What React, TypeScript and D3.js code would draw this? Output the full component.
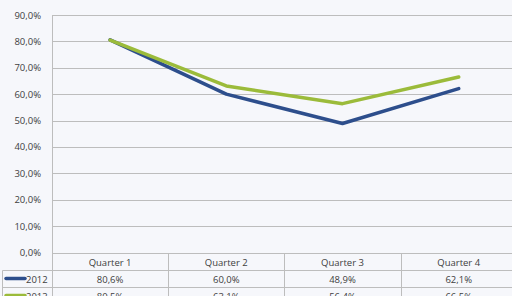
import React, { useEffect, useRef } from 'react';
import * as d3 from 'd3';

const categories = ['Quarter 1', 'Quarter 2', 'Quarter 3', 'Quarter 4'];
const years = ['2012', '2013'];
const values2012 = [80.6, 60.0, 48.9, 62.1];
const values2013 = [80.5, 63.1, 56.4, 66.5];
const yTicks = [0, 10, 20, 30, 40, 50, 60, 70, 80, 90];
const colors = ['#2d4e8c', '#9bbb3a'];

const W = 512;
const H = 296;

const fmt = (v: number) => v.toFixed(1).replace('.', ',') + '%';

const App = () => {
  const ref = useRef<SVGSVGElement>(null);

  useEffect(() => {
    const svg = d3.select(ref.current);
    svg.selectAll('*').remove();

    const left = 52;
    const top = 15;
    const bottom = 252.5;
    const colW = 116.2;
    const rowH = 17;
    const font = "'Open Sans', sans-serif";
    const textColor = '#404040';
    const gridColor = '#bdbdbd';

    svg.append('rect').attr('width', W).attr('height', H).attr('fill', '#f6f7fb');

    const x = d3
      .scaleBand()
      .domain(categories)
      .range([left, left + colW * categories.length]);
    const y = d3.scaleLinear().domain([0, 90]).range([bottom, top]);

    // gridlines
    svg
      .append('g')
      .selectAll('line')
      .data(yTicks)
      .enter()
      .append('line')
      .attr('x1', left)
      .attr('x2', W)
      .attr('y1', (d) => Math.round(y(d)) + 0.5)
      .attr('y2', (d) => Math.round(y(d)) + 0.5)
      .attr('stroke', gridColor)
      .attr('stroke-width', 1);

    // y labels
    svg
      .append('g')
      .selectAll('text')
      .data(yTicks)
      .enter()
      .append('text')
      .attr('x', 41)
      .attr('y', (d) => y(d) + 3.5)
      .attr('text-anchor', 'end')
      .attr('font-family', font)
      .attr('font-size', 9.5)
      .attr('fill', textColor)
      .text((d) => fmt(d));

    // vertical axis line
    svg
      .append('line')
      .attr('x1', left + 0.5)
      .attr('x2', left + 0.5)
      .attr('y1', top)
      .attr('y2', H)
      .attr('stroke', gridColor);

    // data table
    const tableTop = Math.round(bottom) + 0.5;
    const rowLines = [tableTop + rowH, tableTop + rowH * 2];
    svg
      .append('g')
      .selectAll('line')
      .data(rowLines)
      .enter()
      .append('line')
      .attr('x1', 2.5)
      .attr('x2', W)
      .attr('y1', (d) => d)
      .attr('y2', (d) => d)
      .attr('stroke', gridColor);
    svg
      .append('line')
      .attr('x1', 2.5)
      .attr('x2', 2.5)
      .attr('y1', tableTop + rowH)
      .attr('y2', H)
      .attr('stroke', gridColor);
    svg
      .append('g')
      .selectAll('line')
      .data(categories.slice(1))
      .enter()
      .append('line')
      .attr('x1', (d) => Math.round(x(d)!) + 0.5)
      .attr('x2', (d) => Math.round(x(d)!) + 0.5)
      .attr('y1', tableTop)
      .attr('y2', H)
      .attr('stroke', gridColor);

    svg
      .append('g')
      .selectAll('text')
      .data(categories)
      .enter()
      .append('text')
      .attr('x', (d) => x(d)! + x.bandwidth() / 2)
      .attr('y', tableTop + 12.5)
      .attr('text-anchor', 'middle')
      .attr('font-family', font)
      .attr('font-size', 9.5)
      .attr('fill', textColor)
      .text((d) => d);

    const series = [values2012, values2013];
    series.forEach((vals, i) => {
      const rowY = tableTop + rowH * (i + 1);
      svg
        .append('line')
        .attr('x1', 6)
        .attr('x2', 25)
        .attr('y1', rowY + 8)
        .attr('y2', rowY + 8)
        .attr('stroke', colors[i])
        .attr('stroke-width', 3.5)
        .attr('stroke-linecap', 'round');
      svg
        .append('text')
        .attr('x', 26)
        .attr('y', rowY + 12.5)
        .attr('font-family', font)
        .attr('font-size', 9.5)
        .attr('fill', textColor)
        .text(years[i]);
      svg
        .append('g')
        .selectAll('text')
        .data(vals)
        .enter()
        .append('text')
        .attr('x', (_, j) => x(categories[j])! + x.bandwidth() / 2)
        .attr('y', rowY + 12.5)
        .attr('text-anchor', 'middle')
        .attr('font-family', font)
        .attr('font-size', 9.5)
        .attr('fill', textColor)
        .text((d) => fmt(d));
    });

    // lines
    const line = d3
      .line<number>()
      .x((_, j) => x(categories[j])! + x.bandwidth() / 2)
      .y((d) => y(d));
    series.forEach((vals, i) => {
      svg
        .append('path')
        .datum(vals)
        .attr('d', line)
        .attr('fill', 'none')
        .attr('stroke', colors[i])
        .attr('stroke-width', 3.5)
        .attr('stroke-linejoin', 'round')
        .attr('stroke-linecap', 'round');
    });
  }, []);

  return (
    <svg
      ref={ref}
      width={W}
      height={H}
      style={{ position: 'absolute', left: 0, top: 0, display: 'block' }}
    ></svg>
  );
};

export default App;
